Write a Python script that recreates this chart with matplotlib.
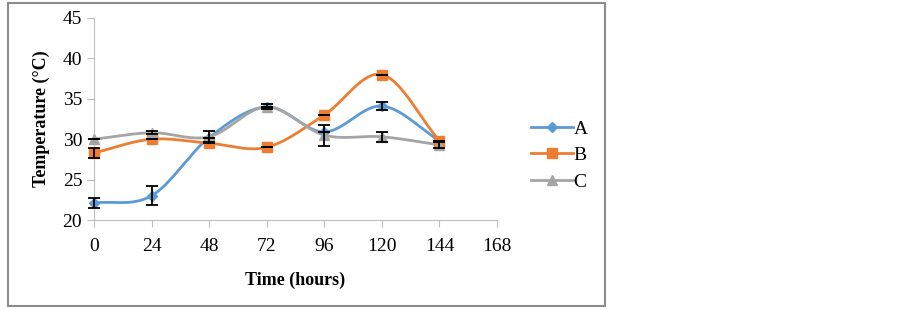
import numpy as np
import matplotlib.pyplot as plt
from matplotlib.patches import Rectangle

plt.rcParams['font.family'] = ['Liberation Serif', 'DejaVu Serif']

# donnees
hours = [0, 24, 48, 72, 96, 120, 144]
temp_A = [22.1, 23.0, 30.2, 34.0, 30.9, 34.1, 29.8]
temp_B = [28.3, 30.0, 29.5, 29.0, 33.0, 38.0, 29.8]
temp_C = [30.0, 30.8, 30.3, 34.0, 30.5, 30.3, 29.3]
err_A = [0.6, 1.2, 0.0, 0.0, 0.0, 0.5, 0.0]
err_B = [0.6, 0.0, 0.0, 0.0, 0.0, 0.0, 0.0]
err_C = [0.0, 0.2, 0.7, 0.3, 1.3, 0.6, 0.4]


def lisse(x, y, n=30):
    # courbe lissee facon Excel (Catmull-Rom)
    x = np.asarray(x, float)
    y = np.asarray(y, float)
    px = np.concatenate([[2 * x[0] - x[1]], x, [2 * x[-1] - x[-2]]])
    py = np.concatenate([[2 * y[0] - y[1]], y, [2 * y[-1] - y[-2]]])
    xs, ys = [], []
    t = np.linspace(0, 1, n)
    for i in range(1, len(px) - 2):
        for p, out in ((px, xs), (py, ys)):
            p0, p1, p2, p3 = p[i - 1], p[i], p[i + 1], p[i + 2]
            out.extend(0.5 * (2 * p1 + (-p0 + p2) * t
                              + (2 * p0 - 5 * p1 + 4 * p2 - p3) * t ** 2
                              + (-p0 + 3 * p1 - 3 * p2 + p3) * t ** 3))
    return xs, ys


fig = plt.figure(figsize=(9.03, 3.10), dpi=100)
fig.patches.append(Rectangle((8 / 903, 4 / 310), 597 / 903, 303 / 310, transform=fig.transFigure,
                             fill=False, edgecolor='#8c8c8c', linewidth=1.5))
ax = fig.add_axes([94 / 903, 90 / 310, 403 / 903, 202 / 310])

series = [('A', temp_A, err_A, '#5B9BD5', 'D', 5),
          ('B', temp_B, err_B, '#ED7D31', 's', 7),
          ('C', temp_C, err_C, '#A5A5A5', '^', 7)]
for nom, y, e, c, m, ms in series:
    xs, ys = lisse(hours, y)
    ax.plot(xs, ys, color=c, linewidth=2, zorder=2, clip_on=False)
    ax.plot(hours, y, linestyle='none', marker=m, color=c, markersize=ms, zorder=3, clip_on=False)
    ax.plot([], [], color=c, marker=m, markersize=ms, linewidth=2, label=nom)
    eb = ax.errorbar(hours, y, yerr=e, fmt='none', ecolor='black', elinewidth=1.3,
                     capsize=4, capthick=1.3, zorder=4)
    for art in eb.lines[1] + eb.lines[2]:
        art.set_clip_on(False)

ax.set_xlim(0, 168)
ax.set_ylim(20, 45)
ax.set_xticks([0, 24, 48, 72, 96, 120, 144, 168])
ax.set_yticks([20, 25, 30, 35, 40, 45])
for s in ['top', 'right']:
    ax.spines[s].set_visible(False)
for s in ['left', 'bottom']:
    ax.spines[s].set_color('#bfbfbf')
ax.tick_params(colors='#bfbfbf', labelcolor='black', labelsize=14, length=5)
ax.tick_params(axis='x', pad=8)
ax.set_xlabel('Time (hours)', fontsize=13, fontweight='bold', labelpad=12)
ax.set_ylabel('Temperature (°C)', fontsize=13, fontweight='bold', labelpad=9)
ax.legend(loc='center left', bbox_to_anchor=(1.04, 0.32), frameon=False, fontsize=14,
          handlelength=2.2, handletextpad=0.0, labelspacing=0.45)

plt.savefig('out.png', dpi=100)
